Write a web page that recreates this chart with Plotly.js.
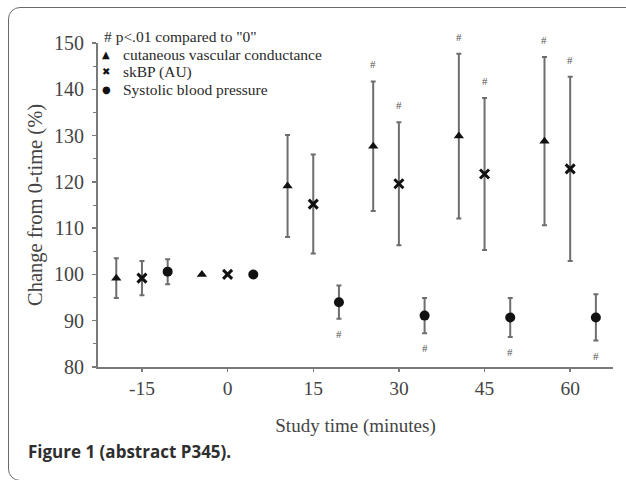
<!DOCTYPE html>
<html>
<head>
<meta charset="utf-8">
<script src="https://cdn.plot.ly/plotly-3.0.1.min.js"></script>
<style>
  html, body { margin: 0; padding: 0; background: #fff; overflow: hidden; }
  #frame { position: absolute; left: 8px; top: 7px; width: 700px; height: 474px;
           border: 1.5px solid #6a6a6a; border-radius: 12px; box-sizing: border-box; }
  #chart { position: absolute; left: 0; top: 0; width: 626px; height: 480px; }
</style>
</head>
<body>
<div id="frame"></div>
<div id="chart"></div>
<script>
// ---- data ----
const times = [-15, 0, 15, 30, 45, 60];
const xTickLabels = ['-15', '0', '15', '30', '45', '60'];

const cvcValues = [99.2, 100, 119.1, 127.7, 129.9, 128.8];
const cvcErrors = [4.3, 0, 11.0, 14.0, 17.8, 18.2];
const cvcSignificant = [false, false, false, true, true, true];

const skbpValues = [99.2, 100, 115.2, 119.6, 121.7, 122.8];
const skbpErrors = [3.7, 0, 10.7, 13.3, 16.4, 19.9];
const skbpSignificant = [false, false, false, true, true, true];

const sbpValues = [100.6, 100, 94.0, 91.1, 90.7, 90.7];
const sbpErrors = [2.7, 0, 3.6, 3.8, 4.2, 5.0];
const sbpSignificant = [false, false, true, true, true, true];

const seriesNames = ['cutaneous vascular conductance', 'skBP (AU)', 'Systolic blood pressure'];
const legendSymbols = ['▲', '✖', '●'];
const legendTitle = '# p<.01 compared to "0"';
const xTitle = 'Study time (minutes)';
const yTitle = 'Change from 0-time (%)';
const caption = 'Figure 1 (abstract P345).';

// ---- style ----
const serif = 'Liberation Serif, Times New Roman, serif';
const textColor = '#2a2a2a';
const axisColor = '#7a7a7a';
const errColor = '#6e6e6e';
const shift = 4.5; // horizontal group offset in minutes

function shifted(off) { return times.map(t => t + off); }

function series(name, vals, errs, off, symbol, size, lw) {
  return {
    type: 'scatter', mode: 'markers', name: name,
    x: shifted(off), y: vals,
    marker: { symbol: symbol, size: size, color: '#111',
              line: { width: lw, color: '#111' } },
    error_y: { type: 'data', array: errs, visible: true, color: errColor, thickness: 2, width: 2.5 },
    showlegend: false, hoverinfo: 'x+y'
  };
}

const data = [
  series(seriesNames[0], cvcValues, cvcErrors, -shift, 'triangle-up', 9, 0),
  series(seriesNames[1], skbpValues, skbpErrors, 0, 'x-thin', 9, 3),
  series(seriesNames[2], sbpValues, sbpErrors, shift, 'circle', 10, 0)
];

// significance marks
const annotations = [];
function addSig(vals, errs, sig, off, above) {
  vals.forEach((v, i) => {
    if (!sig[i]) return;
    annotations.push({
      x: times[i] + off, y: above ? v + errs[i] : v - errs[i],
      xref: 'x', yref: 'y', text: '#', showarrow: false,
      yshift: above ? 17 : -15,
      font: { family: serif, size: 11, color: '#555' }
    });
  });
}
addSig(cvcValues, cvcErrors, cvcSignificant, -shift, true);
addSig(skbpValues, skbpErrors, skbpSignificant, 0, true);
addSig(sbpValues, sbpErrors, sbpSignificant, shift, false);

// legend (drawn as text)
annotations.push({
  xref: 'paper', yref: 'paper', x: 0.0, y: 1.0, xanchor: 'left', yanchor: 'middle',
  xshift: 4, yshift: 7, text: legendTitle, showarrow: false,
  font: { family: serif, size: 15.5, color: textColor }
});
const legendRows = [-11, -28.5, -46];
seriesNames.forEach((name, i) => {
  annotations.push({
    xref: 'paper', yref: 'paper', x: 0.0, y: 1.0, xanchor: 'center', yanchor: 'middle',
    xshift: 8, yshift: legendRows[i], text: legendSymbols[i], showarrow: false,
    font: { family: 'DejaVu Sans', size: 10, color: '#111' }
  });
  annotations.push({
    xref: 'paper', yref: 'paper', x: 0.0, y: 1.0, xanchor: 'left', yanchor: 'middle',
    xshift: 23, yshift: legendRows[i], text: name, showarrow: false,
    font: { family: serif, size: 15.5, color: textColor }
  });
});
// caption
annotations.push({
  xref: 'paper', yref: 'paper', x: 0, y: 0, xanchor: 'left', yanchor: 'middle',
  xshift: -72, yshift: -84, text: '<b>' + caption + '</b>', showarrow: false,
  font: { family: 'Open Sans, Noto Sans, sans-serif', size: 17, color: '#2e2e2e' }
});

const layout = {
  width: 626, height: 480,
  margin: { l: 98, r: 13, t: 43, b: 113 },
  paper_bgcolor: 'rgba(0,0,0,0)', plot_bgcolor: 'rgba(0,0,0,0)',
  font: { family: serif, color: textColor },
  showlegend: false,
  xaxis: {
    range: [-22.7, 67.5], tickvals: times, ticktext: xTickLabels,
    showline: true, linecolor: axisColor, linewidth: 2, mirror: false,
    ticks: 'outside', ticklen: 3, tickwidth: 1.5, tickcolor: axisColor,
    showgrid: false, zeroline: false,
    tickfont: { family: serif, size: 19.5, color: '#444' },
    title: { text: xTitle, font: { family: serif, size: 19, color: '#444' }, standoff: 20 }
  },
  yaxis: {
    range: [80, 150], dtick: 10, tick0: 80,
    showline: true, linecolor: axisColor, linewidth: 2,
    ticks: 'outside', ticklen: 4, tickwidth: 1.5, tickcolor: axisColor,
    minor: { dtick: 5, ticks: 'outside', ticklen: 3, tickcolor: axisColor, tickwidth: 1 },
    showgrid: false, zeroline: false,
    tickfont: { family: serif, size: 20, color: '#444' },
    ticklabelstandoff: 4,
    title: { text: '\u00a0\u00a0\u00a0\u00a0\u00a0\u00a0\u00a0\u00a0' + yTitle,
             font: { family: serif, size: 20.5, color: '#444' }, standoff: 6 }
  },
  annotations: annotations
};

Plotly.newPlot('chart', data, layout, { displayModeBar: false, staticPlot: true });
</script>
</body>
</html>
